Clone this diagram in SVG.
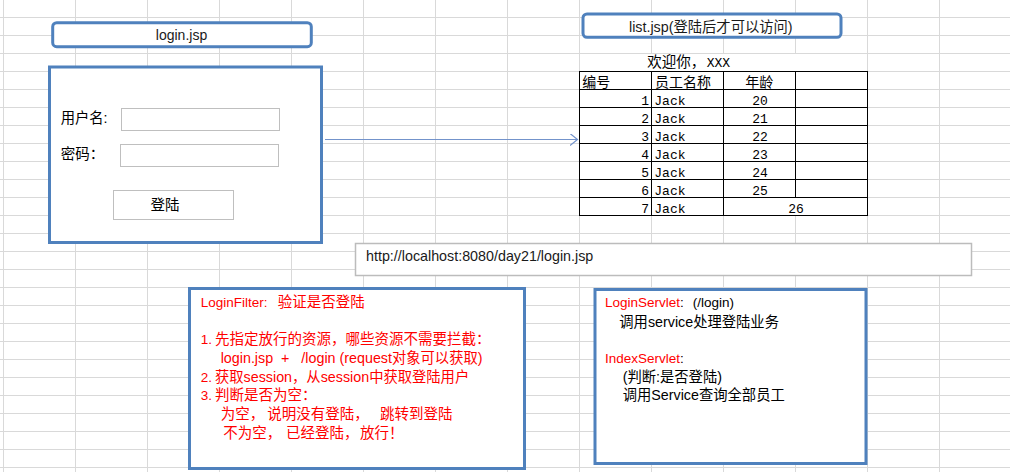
<svg xmlns="http://www.w3.org/2000/svg" width="1010" height="472" viewBox="0 0 1010 472">
<style>
.grid{stroke:#d9d9d9;stroke-width:1;fill:none}
.box{fill:#fff;stroke:#4f81bd;stroke-width:3}
.inp{fill:#fff;stroke:#bfbfbf;stroke-width:1}
.tbl{stroke:#000;stroke-width:1;fill:none}
.lat{font-family:"Liberation Sans",Arial,sans-serif;font-size:13.5px}
.cjk{font-family:"Noto Sans CJK SC","Noto Sans CJK JP",sans-serif;font-size:14.5px}
.mix{font-family:"Liberation Sans","Noto Sans CJK SC","Noto Sans CJK JP",sans-serif;font-size:14.3px}
.mono{font-family:"Liberation Mono","Courier New",monospace;font-size:13px}
.tc{font-family:"Noto Sans CJK SC",sans-serif;font-size:14px}
.red{fill:#ff0000}
.blk{fill:#000}
.conn{stroke:#7393cb;stroke-width:1.2;fill:none}
</style>
<defs>
<marker id="arr" markerWidth="10" markerHeight="14" refX="8" refY="6" orient="auto" markerUnits="userSpaceOnUse">
<polyline points="0.5,0 8,6 0.5,12" fill="none" stroke="#7393cb" stroke-width="1.2"/>
</marker>
</defs>
<rect width="1010" height="472" fill="#fff"/>
<g id="grid">
<path class="grid" d="M3.5 0V472M75.5 0V472M147.5 0V472M219.5 0V472M291.5 0V472M363.5 0V472M435.5 0V472M507.5 0V472M579.5 0V472M651.5 0V472M723.5 0V472M795.5 0V472M867.5 0V472M939.5 0V472"/>
<path class="grid" d="M0 17.5H1010M0 35.5H1010M0 53.5H1010M0 71.5H1010M0 89.5H1010M0 107.5H1010M0 125.5H1010M0 143.5H1010M0 161.5H1010M0 179.5H1010M0 197.5H1010M0 215.5H1010M0 233.5H1010M0 251.5H1010M0 269.5H1010M0 287.5H1010M0 305.5H1010M0 323.5H1010M0 341.5H1010M0 359.5H1010M0 377.5H1010M0 395.5H1010M0 413.5H1010M0 431.5H1010M0 449.5H1010M0 467.5H1010"/>
</g>
<g id="login-title">
<rect class="box" x="52.7" y="22.7" width="258.6" height="24" rx="4"/>
<text x="181.5" y="40" text-anchor="middle" font-family="Liberation Sans, Arial, sans-serif" font-size="14" fill="#1a1a1a">login.jsp</text>
</g>
<g id="login-form">
<rect class="box" x="49.5" y="67" width="272" height="175.5"/>
<text x="60.7" y="123" class="mix blk" font-size="14.5">用户名:</text>
<rect class="inp" x="121.5" y="108.5" width="158" height="22"/>
<text x="60.7" y="159.3" class="cjk blk">密码：</text>
<rect class="inp" x="120.5" y="144.5" width="158" height="22"/>
<rect class="inp" x="113.5" y="190.5" width="120" height="29"/>
<text x="165" y="210" text-anchor="middle" class="cjk blk">登陆</text>
</g>
<g id="list-title">
<rect class="box" x="583" y="14" width="258" height="23.3" rx="4"/>
<text x="629" y="31.5" class="mix" fill="#1a1a1a">list.jsp(登陆后才可以访问)</text>
</g>
<g id="list-table">
<rect x="580" y="54" width="287" height="17" fill="#fff"/>
<rect x="724" y="198" width="143" height="17" fill="#fff"/>
<text x="647.3" y="67" class="cjk blk">欢迎你，</text>
<text x="706.7" y="67" class="mono blk">XXX</text>
<rect class="tbl" x="579.5" y="71.5" width="288" height="144"/>
<path class="tbl" d="M579.5 89.5H867.5M579.5 107.5H867.5M579.5 125.5H867.5M579.5 143.5H867.5M579.5 161.5H867.5M579.5 179.5H867.5M579.5 197.5H867.5M651.5 71.5V215.5M723.5 71.5V215.5M795.5 71.5V197.5"/>
<g class="tc blk">
<text x="582.3" y="86.5">编号</text>
<text x="655" y="86.5">员工名称</text>
<text x="745.3" y="86.5">年龄</text>
</g>
<g class="mono blk" text-anchor="end">
<text x="649" y="105">1</text>
<text x="649" y="123">2</text>
<text x="649" y="141">3</text>
<text x="649" y="159">4</text>
<text x="649" y="177">5</text>
<text x="649" y="195">6</text>
<text x="649" y="213">7</text>
</g>
<g class="mono blk">
<text x="654.3" y="105">Jack</text>
<text x="654.3" y="123">Jack</text>
<text x="654.3" y="141">Jack</text>
<text x="654.3" y="159">Jack</text>
<text x="654.3" y="177">Jack</text>
<text x="654.3" y="195">Jack</text>
<text x="654.3" y="213">Jack</text>
</g>
<g class="mono blk" text-anchor="middle">
<text x="760" y="105">20</text>
<text x="760" y="123">21</text>
<text x="760" y="141">22</text>
<text x="760" y="159">23</text>
<text x="760" y="177">24</text>
<text x="760" y="195">25</text>
<text x="796" y="213">26</text>
</g>
</g>
<g id="url-bar">
<rect x="355.5" y="243.5" width="616" height="32" fill="#fff" stroke="#bcbcbc" stroke-width="1.5"/>
<text x="366" y="261" font-family="Liberation Sans, Arial, sans-serif" font-size="14.3" fill="#1a1a1a">http://localhost:8080/day21/login.jsp</text>
</g>
<g id="login-filter">
<rect class="box" x="189.5" y="288.5" width="335" height="180"/>
<g class="red">
<text y="307.3"><tspan x="200.7" class="lat">LoginFilter:</tspan><tspan x="277.7" class="cjk">验证是否登陆</tspan></text>
<text y="344"><tspan x="200.7" class="lat">1.</tspan><tspan x="215" class="cjk">先指定放行的资源，哪些资源不需要拦截：</tspan></text>
<text x="220.7" y="363.3" class="mix" xml:space="preserve">login.jsp  +   /login (request对象可以获取)</text>
<text x="200.7" y="381.7" class="lat">2.</text>
<text x="215" y="381.7" class="mix">获取session，从session中获取登陆用户</text>
<text x="200.7" y="400" class="lat">3.</text>
<text x="215" y="400" class="cjk">判断是否为空：</text>
<text y="419.3" class="cjk"><tspan x="220.7">为空，</tspan><tspan x="267.3">说明没有登陆，</tspan><tspan x="380">跳转到登陆</tspan></text>
<text y="438.3" class="cjk"><tspan x="223.3">不为空，</tspan><tspan x="286">已经登陆，</tspan><tspan x="360">放行！</tspan></text>
</g>
</g>
<g id="servlets">
<rect class="box" x="595" y="289.5" width="271" height="174"/>
<text y="307.3"><tspan x="605" class="lat red">LoginServlet</tspan><tspan class="lat blk">:</tspan><tspan x="692.7" class="lat blk">(/login)</tspan></text>
<text x="619.3" y="326.7" class="mix blk">调用service处理登陆业务</text>
<text y="362.7"><tspan x="605" class="lat red">IndexServlet</tspan><tspan class="lat blk">:</tspan></text>
<text x="622.7" y="381.7" class="mix blk">(判断:是否登陆)</text>
<text x="622.7" y="400" class="mix blk">调用Service查询全部员工</text>
</g>
<g id="connectors">
<line class="conn" x1="325" y1="139.5" x2="577.5" y2="139.5" marker-end="url(#arr)"/>
</g>
</svg>
